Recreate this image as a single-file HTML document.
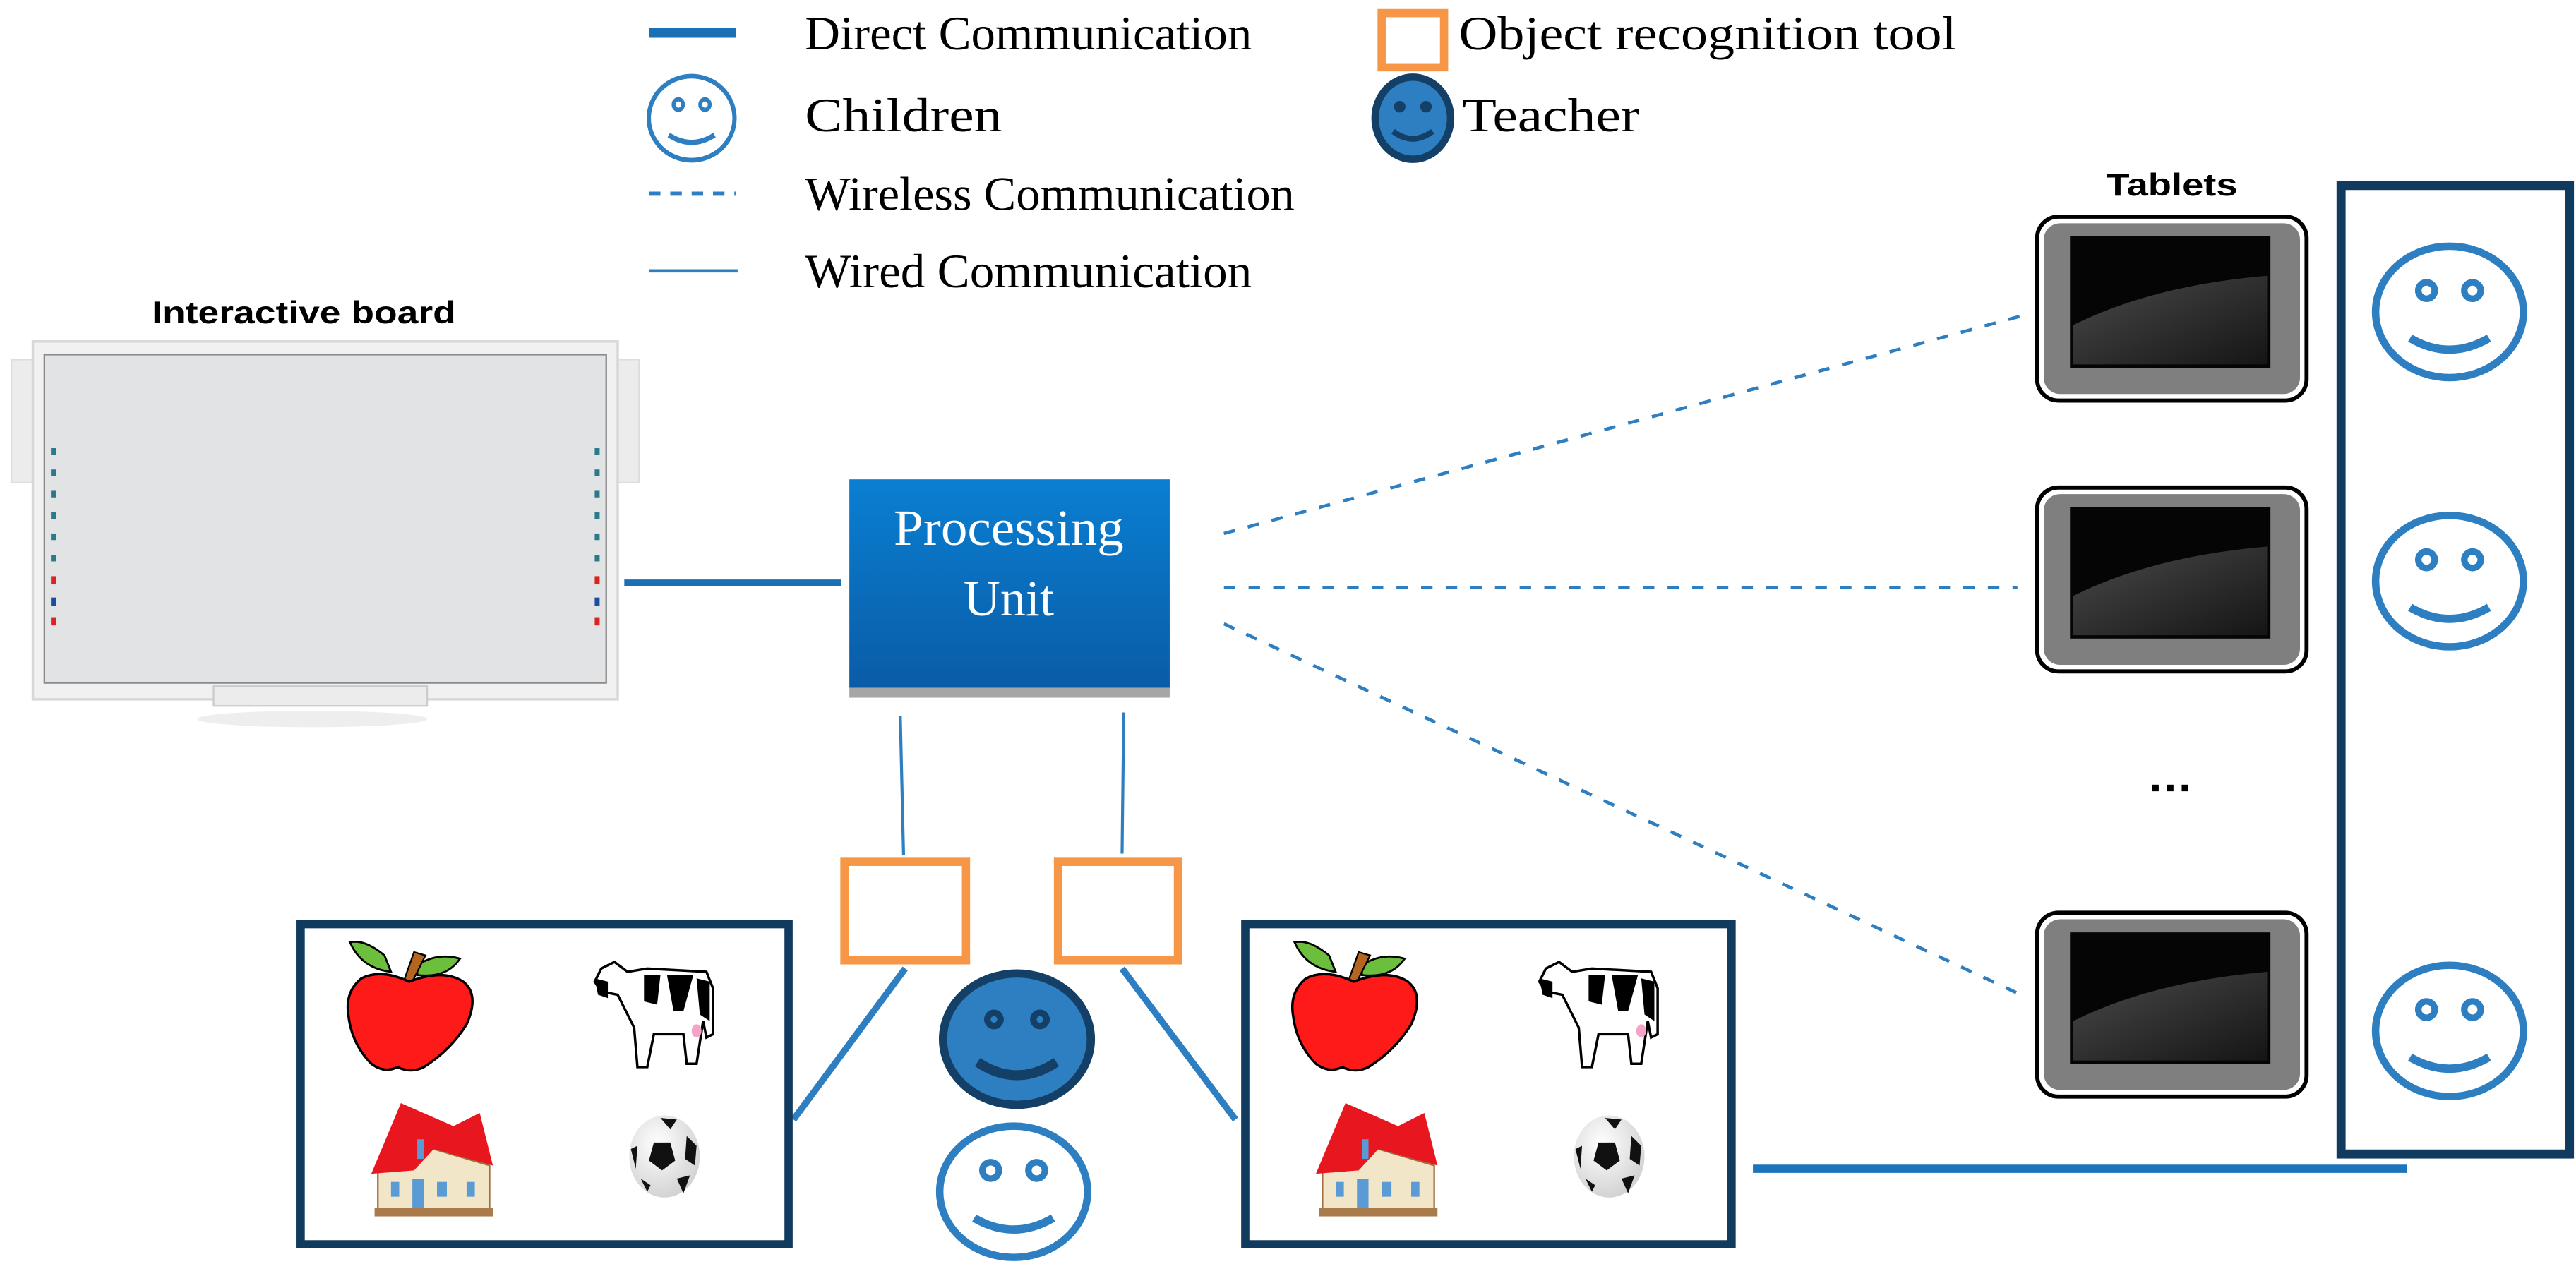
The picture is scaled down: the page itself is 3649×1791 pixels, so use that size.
<!DOCTYPE html>
<html><head><meta charset="utf-8"><style>
html,body{margin:0;padding:0;background:#fff}
svg{display:block}
</style></head><body>
<svg width="3649" height="1791" viewBox="0 0 1568 770" preserveAspectRatio="none" xmlns="http://www.w3.org/2000/svg">
<defs>
<linearGradient id="pu" x1="0" y1="0" x2="0" y2="1"><stop offset="0" stop-color="#0a7fd2"/><stop offset="1" stop-color="#0a5ca6"/></linearGradient>
<linearGradient id="scr" x1="0" y1="0" x2="1" y2="1"><stop offset="0" stop-color="#4a4a4a"/><stop offset="1" stop-color="#151515"/></linearGradient>
<radialGradient id="ballg" cx="0.4" cy="0.35" r="0.7"><stop offset="0" stop-color="#fff"/><stop offset="1" stop-color="#d0d0d0"/></radialGradient>
<g id="kid">
<ellipse cx="0" cy="0" rx="45" ry="40" fill="none" stroke="#2e7fc1" stroke-width="4.5"/>
<circle cx="-14" cy="-13" r="5" fill="none" stroke="#2e7fc1" stroke-width="4"/>
<circle cx="14" cy="-13" r="5" fill="none" stroke="#2e7fc1" stroke-width="4"/>
<path d="M-24 16 Q0 30 24 16" fill="none" stroke="#2e7fc1" stroke-width="5"/>
</g>
<g id="tab">
<rect x="0" y="0" width="164" height="112" rx="13" fill="#fff" stroke="#000" stroke-width="2.5"/>
<rect x="4" y="4" width="156" height="104" rx="10" fill="#7f7f7f"/>
<rect x="20" y="12" width="122" height="80" fill="#050505"/>
<path d="M22 66 Q70 42 140 36 L140 90 L22 90 Z" fill="url(#scr)"/>
</g>
<g id="items">
<path d="M54 22 Q42 12 33 14 Q40 30 58 32 Z" fill="#6cbf3c" stroke="#000" stroke-width="1.2"/>
<path d="M74 28 Q86 20 100 24 Q92 36 74 34 Z" fill="#6cbf3c" stroke="#000" stroke-width="1.2"/>
<path d="M66 37 L72 20 L79 22 L71 38 Z" fill="#b5651d" stroke="#000" stroke-width="1"/>
<path d="M69 38 Q52 30 40 36 Q30 44 32 58 Q34 76 46 88 Q54 94 62 90 Q70 94 78 90 Q94 80 104 64 Q112 46 102 38 Q90 30 69 38 Z" fill="#ff1a1a" stroke="#000" stroke-width="1.5"/>
<path d="M186 30 L194 26 L202 32 L214 30 L250 32 L254 42 L254 70 L250 72 L248 62 L244 88 L238 88 L236 70 L218 70 L214 90 L208 90 L206 66 Q200 54 196 46 L186 44 L182 38 Z" fill="#fff" stroke="#000" stroke-width="1.5"/>
<path d="M212 34 L222 34 L220 52 L212 50 Z" fill="#000"/>
<path d="M226 34 L242 34 L236 56 L230 56 Z" fill="#000"/>
<path d="M244 36 L252 38 L252 62 L246 58 Z" fill="#000"/>
<path d="M182 36 L190 38 L190 48 L184 46 Z" fill="#000"/>
<ellipse cx="244" cy="68" rx="3" ry="4" fill="#f5a3c7"/>
<path d="M50 150 L50 178 L118 178 L118 150 L84 140 Z" fill="#f2e6c9" stroke="#a07040" stroke-width="1"/>
<path d="M64 112 L46 155 L72 153 L84 140 L120 150 L112 118 L96 126 Z" fill="#e8161e"/>
<rect x="58" y="160" width="5" height="9" fill="#5b9bd5"/><rect x="71" y="158" width="7" height="20" fill="#5b9bd5"/><rect x="86" y="160" width="6" height="9" fill="#5b9bd5"/><rect x="104" y="160" width="5" height="9" fill="#5b9bd5"/>
<rect x="74" y="134" width="4" height="12" fill="#5b9bd5"/>
<rect x="48" y="176" width="72" height="5" fill="#a97a4a"/>
<ellipse cx="224.5" cy="144.5" rx="21.5" ry="25" fill="url(#ballg)"/>
<path d="M218 136 L228 136 L231 147 L223 153 L215 147 Z" fill="#111"/>
<path d="M222 121 L232 122 L228 128 Z" fill="#111"/>
<path d="M238 132 L244 138 L243 150 L237 146 Z" fill="#111"/>
<path d="M204 140 L208 138 L207 152 Z" fill="#111"/>
<path d="M232 158 L240 156 L236 167 Z" fill="#111"/>
<path d="M210 158 L216 162 L214 166 Z" fill="#111"/>
</g>
</defs>

<rect x="395" y="17" width="53" height="6" fill="#1a6fb5"/>
<g transform="translate(421,72) scale(0.58,0.64)"><use href="#kid"/></g>
<line x1="395" y1="118" x2="448" y2="118" stroke="#2e7fc1" stroke-width="2.5" stroke-dasharray="7,6"/>
<line x1="395" y1="165" x2="449" y2="165" stroke="#2e7fc1" stroke-width="2"/>
<g font-family="Liberation Serif, serif" font-size="29" fill="#000">
<text x="490" y="30" textLength="272" lengthAdjust="spacingAndGlyphs">Direct Communication</text>
<text x="490" y="80" textLength="120" lengthAdjust="spacingAndGlyphs">Children</text>
<text x="490" y="128" textLength="298" lengthAdjust="spacingAndGlyphs">Wireless Communication</text>
<text x="490" y="175" textLength="272" lengthAdjust="spacingAndGlyphs">Wired Communication</text>
<text x="888" y="30" textLength="303" lengthAdjust="spacingAndGlyphs">Object recognition tool</text>
<text x="890" y="80" textLength="108" lengthAdjust="spacingAndGlyphs">Teacher</text>
</g>
<rect x="841" y="8" width="38" height="33" fill="none" stroke="#f79646" stroke-width="5"/>
<g transform="translate(860,72)">
<ellipse rx="23" ry="25" fill="#2e7fc1" stroke="#143f66" stroke-width="4.5"/>
<circle cx="-8" cy="-7" r="3.5" fill="#143f66"/><circle cx="8" cy="-7" r="3.5" fill="#143f66"/>
<path d="M-12 8 Q0 17 12 8" fill="none" stroke="#143f66" stroke-width="3.5"/>
</g>

<text x="185" y="197" font-family="Liberation Sans, sans-serif" font-weight="bold" font-size="19" text-anchor="middle" textLength="185" lengthAdjust="spacingAndGlyphs">Interactive board</text>
<rect x="7" y="219" width="14" height="75" fill="#ececec" stroke="#ddd"/>
<rect x="375" y="219" width="14" height="75" fill="#ececec" stroke="#ddd"/>
<rect x="20" y="208" width="356" height="218" fill="#f1f1f1" stroke="#d8d8d8" stroke-width="1.5"/>
<rect x="27" y="216" width="342" height="200" fill="#e2e3e4" stroke="#8a8a8a" stroke-width="1"/>
<rect x="130" y="418" width="130" height="12" fill="#ececec" stroke="#ccc"/>
<g fill="#2a7a8a">
<rect x="31" y="273" width="3" height="4"/><rect x="31" y="286" width="3" height="4"/><rect x="31" y="299" width="3" height="4"/><rect x="31" y="312" width="3" height="4"/><rect x="31" y="325" width="3" height="4"/><rect x="31" y="338" width="3" height="4"/>
<rect x="362" y="273" width="3" height="4"/><rect x="362" y="286" width="3" height="4"/><rect x="362" y="299" width="3" height="4"/><rect x="362" y="312" width="3" height="4"/><rect x="362" y="325" width="3" height="4"/><rect x="362" y="338" width="3" height="4"/>
</g>
<g fill="#d22"><rect x="31" y="351" width="3" height="5"/><rect x="362" y="351" width="3" height="5"/><rect x="31" y="376" width="3" height="5"/><rect x="362" y="376" width="3" height="5"/></g>
<g fill="#1a4fa0"><rect x="31" y="364" width="3" height="5"/><rect x="362" y="364" width="3" height="5"/></g>
<ellipse cx="190" cy="438" rx="70" ry="5" fill="#eee"/>

<line x1="380" y1="355" x2="512" y2="355" stroke="#1a6fb5" stroke-width="4"/>
<rect x="517" y="292" width="195" height="127" fill="url(#pu)"/>
<rect x="517" y="419" width="195" height="6" fill="#a6a6a6"/>
<g font-family="Liberation Serif, serif" font-size="31" fill="#fff" text-anchor="middle">
<text x="614" y="332" textLength="140" lengthAdjust="spacingAndGlyphs">Processing</text>
<text x="614" y="375">Unit</text>
</g>

<g stroke="#2e7fc1" stroke-width="2" stroke-dasharray="7,8" fill="none">
<line x1="745" y1="325" x2="1232" y2="192"/>
<line x1="745" y1="358" x2="1228" y2="358"/>
<line x1="745" y1="380" x2="1228" y2="605"/>
</g>
<text x="1322" y="119" font-family="Liberation Sans, sans-serif" font-weight="bold" font-size="19" text-anchor="middle" textLength="80" lengthAdjust="spacingAndGlyphs">Tablets</text>
<use href="#tab" x="1240" y="132"/>
<use href="#tab" x="1240" y="297"/>
<use href="#tab" x="1240" y="556"/>
<g fill="#000"><rect x="1310" y="478" width="4" height="4"/><rect x="1319" y="478" width="4" height="4"/><rect x="1328" y="478" width="4" height="4"/></g>
<rect x="1425" y="113" width="139" height="590" fill="none" stroke="#103a5e" stroke-width="5.5"/>
<use href="#kid" x="1491" y="190"/>
<use href="#kid" x="1491" y="354"/>
<use href="#kid" x="1491" y="628"/>

<g stroke="#2e7fc1" stroke-width="1.8"><line x1="548" y1="436" x2="550" y2="521"/><line x1="684" y1="434" x2="683" y2="520"/></g>
<rect x="514" y="525" width="74" height="60" fill="none" stroke="#f79646" stroke-width="5"/>
<rect x="644" y="525" width="73" height="60" fill="none" stroke="#f79646" stroke-width="5"/>
<g stroke="#2e7fc1" stroke-width="4"><line x1="551" y1="590" x2="483" y2="682"/><line x1="683" y1="590" x2="752" y2="682"/></g>
<g transform="translate(619,633)">
<ellipse rx="45" ry="40" fill="#2e7fc1" stroke="#143f66" stroke-width="5"/>
<circle cx="-14" cy="-12" r="6" fill="#143f66"/><circle cx="14" cy="-12" r="6" fill="#143f66"/>
<circle cx="-14" cy="-12" r="2" fill="#2e7fc1"/><circle cx="14" cy="-12" r="2" fill="#2e7fc1"/>
<path d="M-24 14 Q0 30 24 14" fill="none" stroke="#143f66" stroke-width="6"/>
</g>
<use href="#kid" x="617" y="726"/>

<rect x="183" y="563" width="297" height="195" fill="none" stroke="#103a5e" stroke-width="5"/>
<use href="#items" x="180" y="560"/>
<rect x="758" y="563" width="296" height="195" fill="none" stroke="#103a5e" stroke-width="5"/>
<use href="#items" x="755" y="560"/>
<line x1="1067" y1="712" x2="1465" y2="712" stroke="#1a75bd" stroke-width="5"/>
</svg>
</body></html>
